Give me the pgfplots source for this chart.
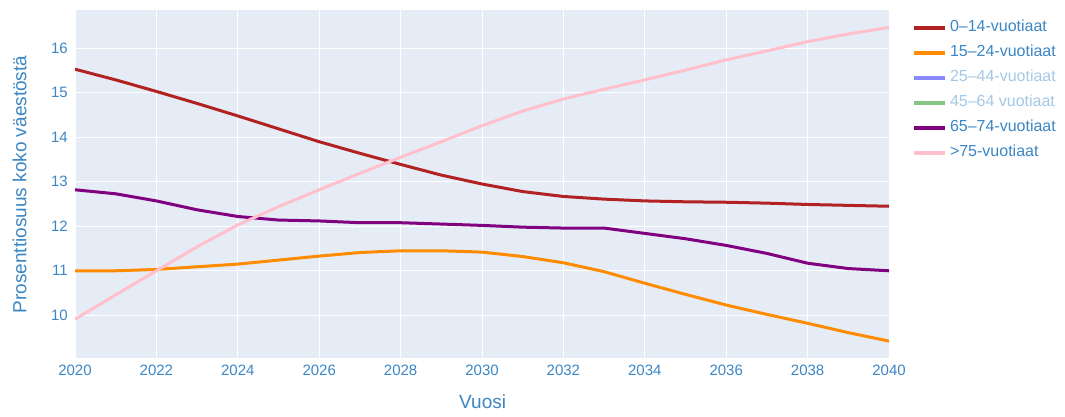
\documentclass[border=0pt]{standalone}
\usepackage{pgfplots}
\pgfplotsset{compat=1.18}
\usepackage{fontspec}
\setmainfont{Liberation Sans}
\definecolor{txt}{HTML}{3B86C4}
\definecolor{txtfade}{HTML}{A3C8E6}
\definecolor{bg}{HTML}{E5ECF6}
\definecolor{c014}{HTML}{B22222}
\definecolor{c1524}{HTML}{FF8C00}
\definecolor{c2544}{HTML}{8A8AFF}
\definecolor{c4564}{HTML}{86C486}
\definecolor{c6574}{HTML}{800080}
\definecolor{c75}{HTML}{FFC0CB}
\begin{document}
\begin{tikzpicture}[x=1pt,y=1pt]
\path[use as bounding box] (0,0) rectangle (1065,416);
\begin{axis}[
  at={(75pt,58pt)}, anchor=south west,
  width=814pt, height=348pt, scale only axis,
  xmin=2020, xmax=2040, ymin=9.04, ymax=16.86,
  xtick={2020,2022,...,2040}, ytick={10,11,...,16},
  /pgf/number format/assume math mode=true,
  /pgf/number format/1000 sep={},
  axis line style={draw=none},
  major tick length=0pt,
  grid=major,
  grid style={white, line width=1pt},
  axis background/.style={fill=bg},
  tick label style={font=\fontsize{15}{18}\selectfont, text=txt},
  yticklabel style={inner sep=0pt, anchor=east, xshift=-7pt},
  xticklabel style={inner sep=0pt, anchor=north, yshift=-7pt},
  xlabel={Vuosi},
  ylabel={Prosenttiosuus koko väestöstä},
  label style={font=\fontsize{19}{22}\selectfont, text=txt, inner sep=0pt},
  xlabel style={at={(axis description cs:0.5008,-0.1264)}, anchor=center},
  ylabel style={at={(axis description cs:-0.0682,0.4986)}, anchor=center},
  legend style={at={(axis description cs:1.028,0.971)}, anchor=north west,
    draw=none, fill=none, inner sep=0pt, row sep=10pt,
    font=\fontsize{16}{19}\selectfont, text=txt,
    nodes={inner ysep=0pt, inner xsep=3.5pt, text height=11.5pt, text depth=3.5pt}},
  legend cell align=left,
  legend image code/.code={\draw[#1, line width=3.5pt] (0pt,0pt) -- (31pt,0pt);},
  every axis plot/.append style={line width=3pt, line join=round},
]
\addplot[color=c014] coordinates {
(2020,15.53)(2021,15.29)(2022,15.03)(2023,14.76)(2024,14.48)(2025,14.19)(2026,13.90)
(2027,13.64)(2028,13.39)(2029,13.15)(2030,12.95)(2031,12.78)(2032,12.67)(2033,12.61)
(2034,12.57)(2035,12.55)(2036,12.54)(2037,12.52)(2038,12.49)(2039,12.47)(2040,12.45)};
\addlegendentry{0–14-vuotiaat}
\addplot[color=c1524] coordinates {
(2020,11.00)(2021,11.00)(2022,11.03)(2023,11.09)(2024,11.15)(2025,11.24)(2026,11.33)
(2027,11.41)(2028,11.45)(2029,11.45)(2030,11.42)(2031,11.32)(2032,11.18)(2033,10.98)
(2034,10.72)(2035,10.47)(2036,10.23)(2037,10.02)(2038,9.82)(2039,9.61)(2040,9.42)};
\addlegendentry{15–24-vuotiaat}
\addlegendimage{color=c2544}
\addlegendentry{\textcolor{txtfade}{25–44-vuotiaat}}
\addlegendimage{color=c4564}
\addlegendentry{\textcolor{txtfade}{45–64 vuotiaat}}
\addplot[color=c6574] coordinates {
(2020,12.82)(2021,12.73)(2022,12.57)(2023,12.37)(2024,12.22)(2025,12.14)(2026,12.12)
(2027,12.08)(2028,12.08)(2029,12.05)(2030,12.02)(2031,11.98)(2032,11.96)(2033,11.96)
(2034,11.84)(2035,11.72)(2036,11.57)(2037,11.39)(2038,11.17)(2039,11.05)(2040,11.00)};
\addlegendentry{65–74-vuotiaat}
\addplot[color=c75] coordinates {
(2020,9.91)(2021,10.46)(2022,11.00)(2023,11.54)(2024,12.03)(2025,12.44)(2026,12.82)
(2027,13.19)(2028,13.55)(2029,13.90)(2030,14.26)(2031,14.59)(2032,14.86)(2033,15.08)
(2034,15.29)(2035,15.51)(2036,15.74)(2037,15.94)(2038,16.15)(2039,16.32)(2040,16.47)};
\addlegendentry{>75-vuotiaat}
\end{axis}
\end{tikzpicture}
\end{document}
